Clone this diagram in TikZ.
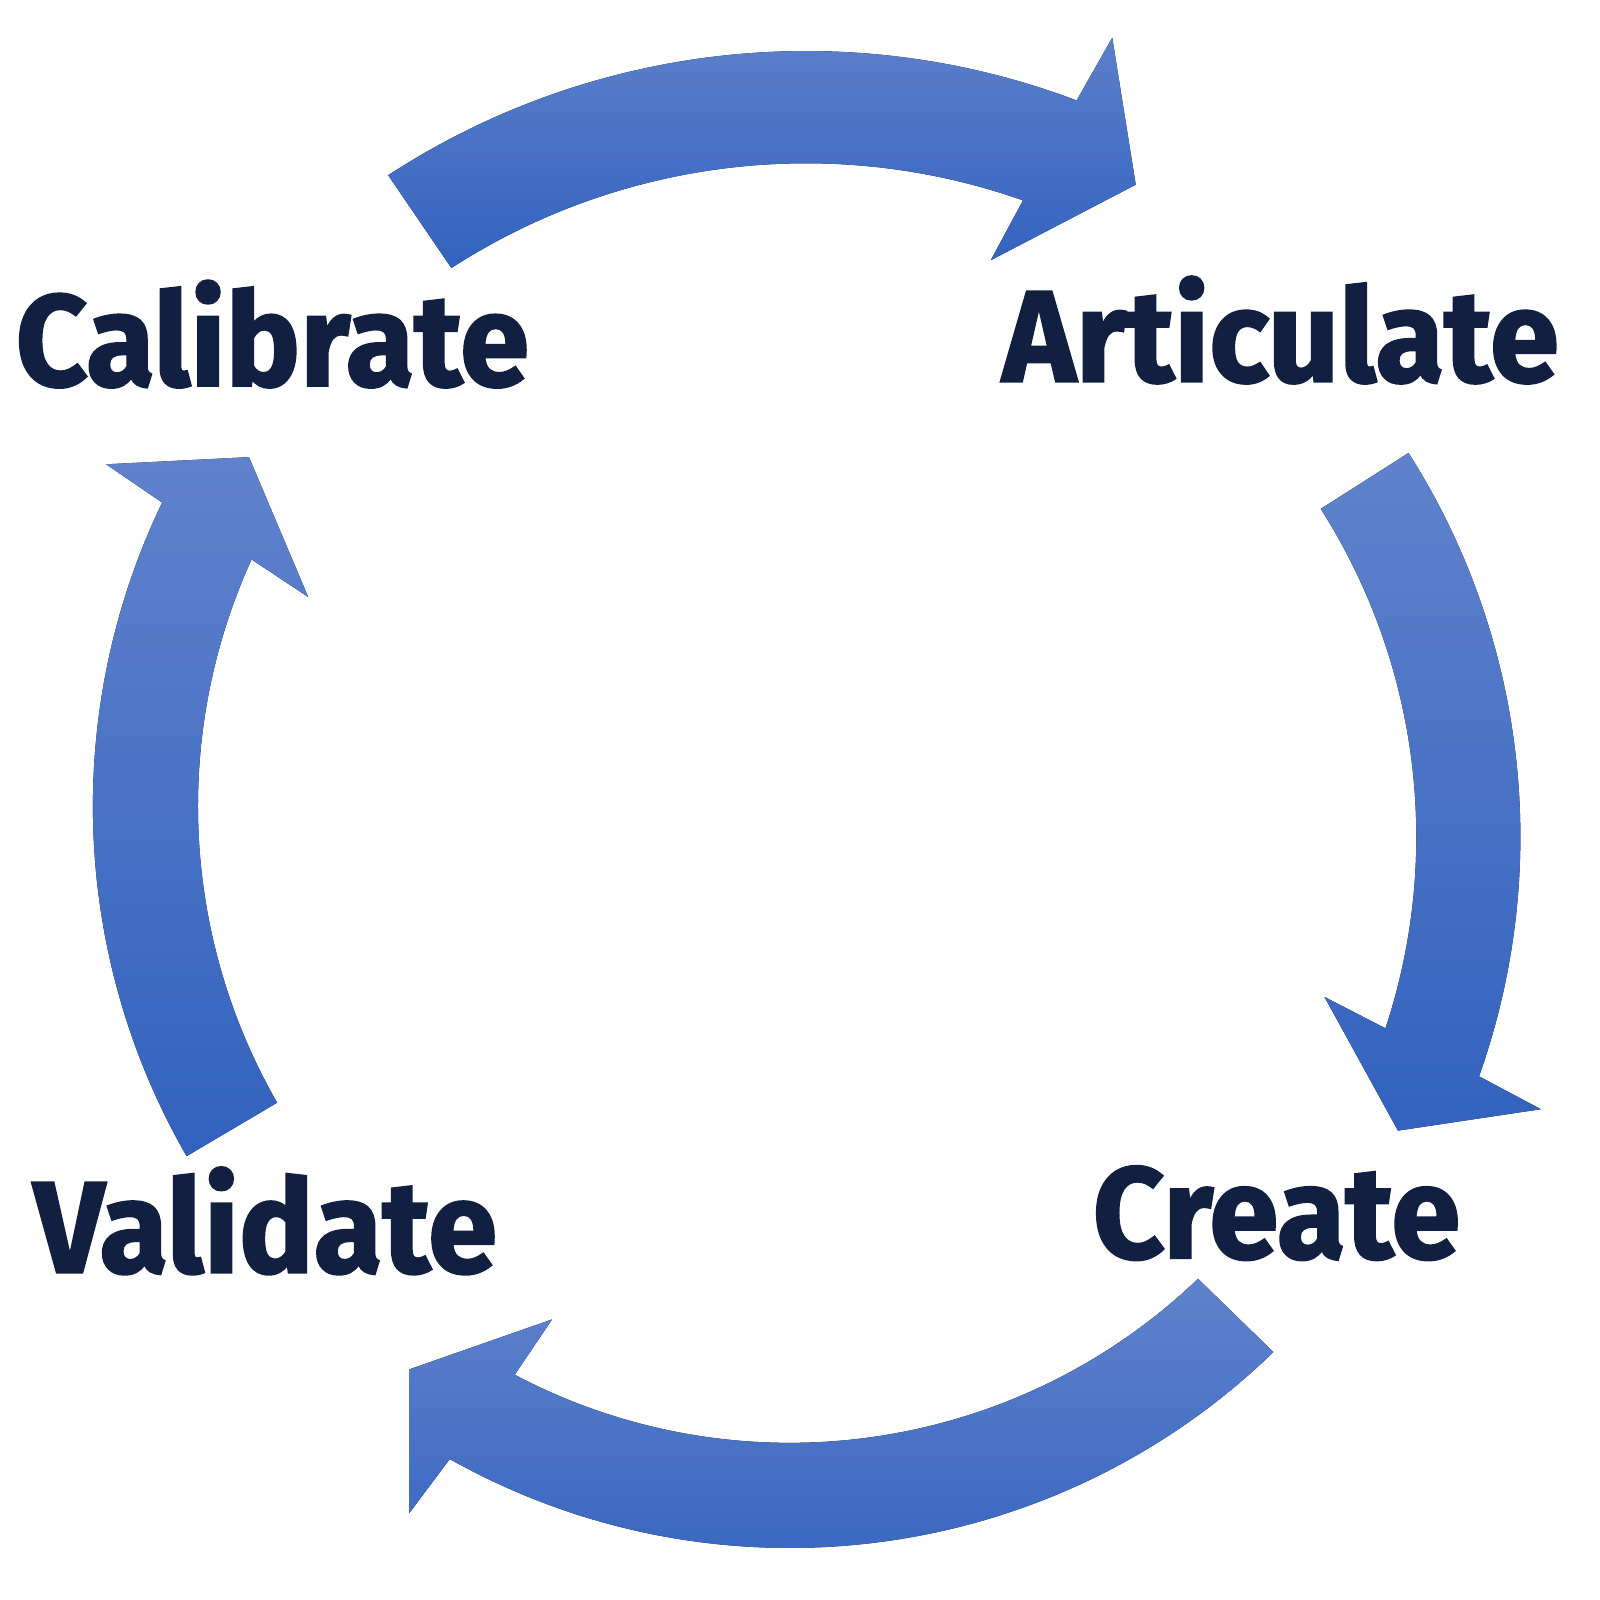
\documentclass[tikz,border=0pt]{standalone}
\usepackage{fontspec}
\usetikzlibrary{calc}
\newfontfamily\lblfont{Fira Sans}[FakeStretch=0.96, BoldFeatures={FakeBold=1.6}]
\definecolor{navy}{RGB}{17,32,64}
\definecolor{atop}{RGB}{96,130,204}
\definecolor{abot}{RGB}{50,98,190}

\begin{document}
\begin{tikzpicture}[x=0.010204cm, y=-0.010204cm,
         % the four curved arrows
         band/.style={top color=atop, bottom color=abot, draw=none},
         % the four words
         lbl/.style={anchor=base, inner sep=0pt, text=navy,
            font=\lblfont\bfseries\fontsize{37}{40}\selectfont}]
   \useasboundingbox (0,0) rectangle (1568,1568);
   \coordinate (ctop) at (790,800);
   \coordinate (cright) at (790,820);
   \coordinate (cbot) at (774,836);
   \coordinate (cleft) at (777,790);
   %% top arrow
   \fill [band] ($(ctop)+(-123.1:750)$) arc[start angle=-123.1, end angle=-69.3, radius=750]
      -- (1090,37) -- (1113,181) -- (971,255)
      -- ($(ctop)+(-70.6:640)$) arc[start angle=-70.6, end angle=-122.9, radius=640] -- cycle;
   %% right arrow
   \fill [band] ($(cright)+(-32.5:700)$) arc[start angle=-32.5, end angle=19.6, radius=700]
      -- (1510,1087) -- (1370,1108) -- (1298,977)
      -- ($(cright)+(18.3:598)$) arc[start angle=18.3, end angle=-32.5, radius=598] -- cycle;
   %% bottom arrow
   \fill [band] ($(cbot)+(45.9:681)$) arc[start angle=45.9, end angle=119.3, radius=681]
      -- (401,1483) -- (401,1342) -- (541,1293)
      -- ($(cbot)+(117.8:578)$) arc[start angle=117.8, end angle=46.2, radius=578] -- cycle;
   %% left arrow
   \fill [band] ($(cleft)+(150:686)$) arc[start angle=150, end angle=205.7, radius=686]
      -- (104,455) -- (244,448) -- (302,585)
      -- ($(cleft)+(204.5:583)$) arc[start angle=204.5, end angle=150.1, radius=583] -- cycle;
   \node [lbl] (calibrate) at (267,378) {Calibrate};
   \node [lbl] (articulate) at (1255,374) {Articulate};
   \node [lbl] (create) at (1251,1233) {Create};
   \node [lbl] (validate) at (260,1247) {Validate};
\end{tikzpicture}
\end{document}
